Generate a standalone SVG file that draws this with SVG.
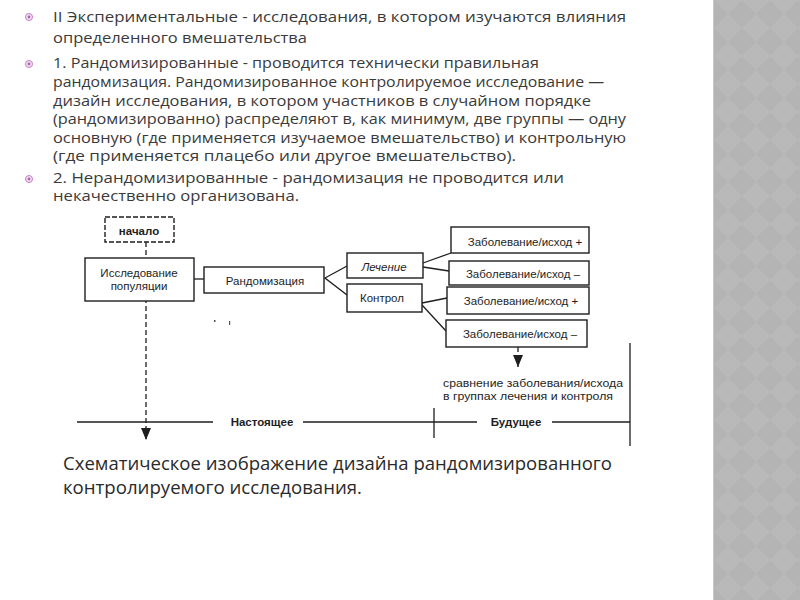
<svg xmlns="http://www.w3.org/2000/svg" width="800" height="600" viewBox="0 0 800 600">
<defs>
<style>
.t{font-family:"Open Sans","DejaVu Sans",sans-serif;font-size:15px;fill:#3a3a3a}
.cap{font-family:"Open Sans","DejaVu Sans",sans-serif;font-size:17.5px;fill:#2a2a2a}
.d{font-family:"Liberation Sans",Arial,sans-serif;font-size:11.5px;fill:#1e1e1e}
.box{fill:#fff;stroke:#1e1e1e;stroke-width:1.4}
.ln{fill:none;stroke:#1e1e1e;stroke-width:1.3}
.dash{fill:none;stroke:#1e1e1e;stroke-width:1.3;stroke-dasharray:5 3}
.bul{fill:#f3e3f3;stroke:#c77bc7;stroke-width:1}
</style>
<pattern id="dia" width="28" height="28" patternUnits="userSpaceOnUse">
<rect width="28" height="28" fill="#b9b9b9"/>
<path d="M14 0 L28 14 L14 28 L0 14 Z" fill="#b4b4b4"/>
</pattern>
<marker id="ah" markerWidth="12" markerHeight="10" refX="12" refY="5" orient="auto" markerUnits="userSpaceOnUse">
<path d="M0 0 L12 5 L0 10 Z" fill="#1e1e1e"/>
</marker>
</defs>
<rect width="800" height="600" fill="#fff"/>
<rect x="713" y="0" width="87" height="600" fill="url(#dia)"/>
<line x1="713.5" y1="0" x2="713.5" y2="600" stroke="#c8c8c8" stroke-width="1"/>

<g id="bullets">
<circle class="bul" cx="29" cy="17" r="3.5"/><circle cx="29" cy="17" r="1.4" fill="#b060b0"/>
<circle class="bul" cx="29" cy="64" r="3.5"/><circle cx="29" cy="64" r="1.4" fill="#b060b0"/>
<circle class="bul" cx="29" cy="179" r="3.5"/><circle cx="29" cy="179" r="1.4" fill="#b060b0"/>
</g>
<g id="text">
<text class="t" x="53" y="22" textLength="573" lengthAdjust="spacingAndGlyphs">II Экспериментальные - исследования, в котором изучаются влияния</text>
<text class="t" x="53" y="43" textLength="254" lengthAdjust="spacingAndGlyphs">определенного вмешательства</text>
<text class="t" x="53" y="68" textLength="486" lengthAdjust="spacingAndGlyphs">1. Рандомизированные - проводится технически правильная</text>
<text class="t" x="53" y="87" textLength="551" lengthAdjust="spacingAndGlyphs">рандомизация. Рандомизированное контролируемое исследование —</text>
<text class="t" x="53" y="106" textLength="538" lengthAdjust="spacingAndGlyphs">дизайн исследования, в котором участников в случайном порядке</text>
<text class="t" x="53" y="124" textLength="573" lengthAdjust="spacingAndGlyphs">(рандомизированно) распределяют в, как минимум, две группы — одну</text>
<text class="t" x="53" y="143" textLength="573" lengthAdjust="spacingAndGlyphs">основную (где применяется изучаемое вмешательство) и контрольную</text>
<text class="t" x="53" y="161" textLength="463" lengthAdjust="spacingAndGlyphs">(где применяется плацебо или другое вмешательство).</text>
<text class="t" x="53" y="183" textLength="511" lengthAdjust="spacingAndGlyphs">2. Нерандомизированные - рандомизация не проводится или</text>
<text class="t" x="53" y="201" textLength="246" lengthAdjust="spacingAndGlyphs">некачественно организована.</text>
<text class="cap" x="63" y="470" textLength="549" lengthAdjust="spacingAndGlyphs">Схематическое изображение дизайна рандомизированного</text>
<text class="cap" x="63" y="494" textLength="299" lengthAdjust="spacingAndGlyphs">контролируемого исследования.</text>
</g>

<g id="connectors">
<line class="dash" x1="146" y1="242" x2="146" y2="440" marker-end="url(#ah)"/>
<line class="ln" x1="194" y1="279" x2="204" y2="279"/>
<polyline class="ln" points="347,266 325,278 347,295"/>
<line class="ln" x1="423" y1="263" x2="451" y2="253"/>
<line class="ln" x1="423" y1="267" x2="449" y2="271"/>
<line class="ln" x1="422" y1="303" x2="447" y2="298"/>
<line class="ln" x1="422" y1="305" x2="446" y2="331"/>
<line class="dash" x1="518" y1="347" x2="518" y2="367" marker-end="url(#ah)"/>
<line class="ln" x1="77" y1="422" x2="213" y2="422"/>
<line class="ln" x1="303" y1="422" x2="477" y2="422"/>
<line class="ln" x1="434" y1="408" x2="434" y2="438"/>
<line class="ln" x1="552" y1="422" x2="630" y2="422"/>
<line class="ln" x1="630" y1="343" x2="630" y2="446"/>
<rect x="214" y="320" width="1.5" height="2" fill="#555"/>
<rect x="229" y="321" width="1.2" height="4" fill="#555"/>
</g>

<g id="start">
<rect class="box" x="105" y="217" width="69" height="25" stroke-dasharray="5 2"/>
<text class="d" x="139" y="235" text-anchor="middle" font-weight="bold">начало</text>
</g>
<g id="population">
<rect class="box" x="85" y="258" width="109" height="43"/>
<text class="d" x="139" y="277" text-anchor="middle">Исследование</text>
<text class="d" x="139" y="290" text-anchor="middle">популяции</text>
</g>
<g id="randomization">
<rect class="box" x="204" y="267" width="120" height="26"/>
<text class="d" x="265" y="285" text-anchor="middle" font-size="12.5">Рандомизация</text>
</g>
<g id="treatment">
<rect class="box" x="347" y="253" width="76" height="25"/>
<text class="d" x="384" y="271" text-anchor="middle" font-style="italic">Лечение</text>
</g>
<g id="control">
<rect class="box" x="347" y="284" width="75" height="28"/>
<text class="d" x="382" y="302" text-anchor="middle">Контрол</text>
</g>
<g id="outcomeA">
<rect class="box" x="451" y="227" width="138" height="26"/>
<text class="d" x="525" y="246" text-anchor="middle" font-size="12">Заболевание/исход +</text>
</g>
<g id="outcomeB">
<rect class="box" x="449" y="261" width="140" height="24"/>
<text class="d" x="523" y="278" text-anchor="middle" font-size="12">Заболевание/исход –</text>
</g>
<g id="outcomeC">
<rect class="box" x="447" y="287" width="142" height="27"/>
<text class="d" x="521" y="305" text-anchor="middle" font-size="12">Заболевание/исход +</text>
</g>
<g id="outcomeD">
<rect class="box" x="446" y="320" width="141" height="27"/>
<text class="d" x="520" y="338" text-anchor="middle" font-size="12">Заболевание/исход –</text>
</g>
<g id="labels">
<text class="d" x="443" y="387" textLength="180" lengthAdjust="spacingAndGlyphs">сравнение заболевания/исхода</text>
<text class="d" x="443" y="400" textLength="170" lengthAdjust="spacingAndGlyphs">в группах лечения и контроля</text>
<text class="d" x="262" y="426" text-anchor="middle" font-weight="bold">Настоящее</text>
<text class="d" x="516" y="426" text-anchor="middle" font-weight="bold">Будущее</text>
</g>
</svg>
